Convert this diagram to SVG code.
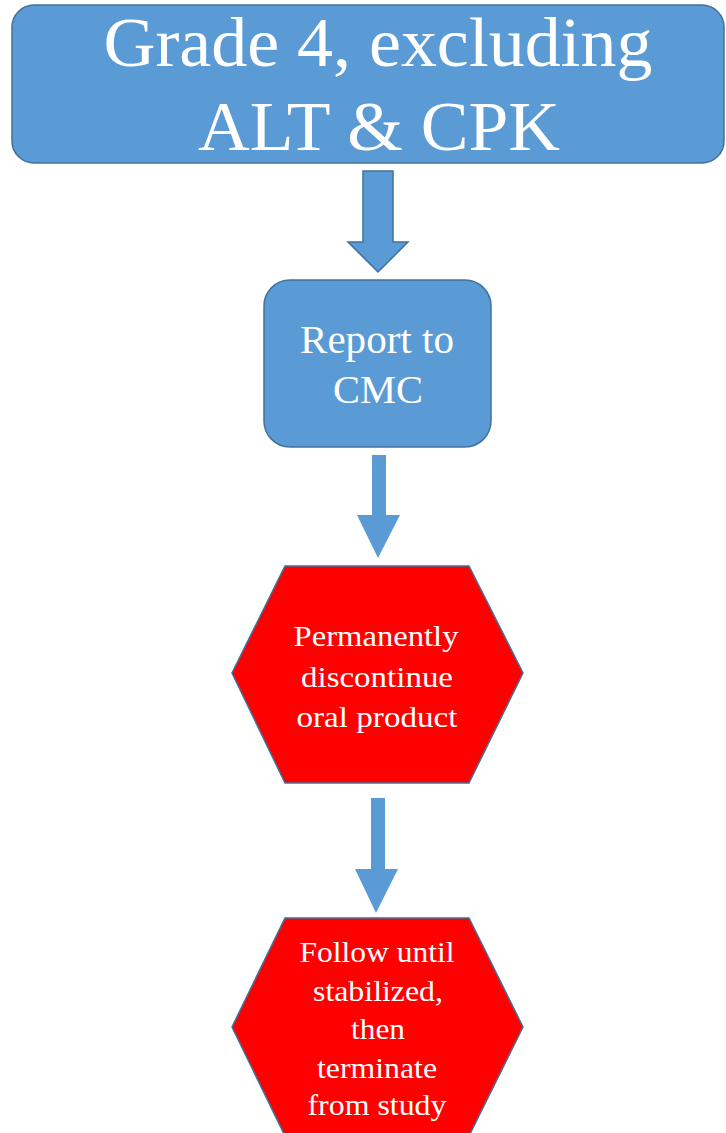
<svg xmlns="http://www.w3.org/2000/svg" width="726" height="1133" viewBox="0 0 726 1133">
<style>
.t{font-family:"Liberation Serif","Times New Roman",serif;fill:#fff;text-anchor:middle}
.box{fill:#5B9BD5;stroke:#41719C;stroke-width:1.5}
.hex{fill:#FF0000;stroke:#41719C;stroke-width:1.5}
.arr{fill:#5B9BD5}
</style>
<rect width="726" height="1133" fill="#fff"/>
<g id="connectors">
<path class="arr" d="M363,171 H393 V242 H408 L378,272 L348,242 H363 Z" stroke="#41719C" stroke-width="1.5"/>
<path class="arr" d="M372,455 H386 V515 H400 L378,558 L357,515 H372 Z"/>
<path class="arr" d="M371,798 H385 V869 H398 L376,913 L355,869 H371 Z"/>
</g>
<g id="grade4">
<rect class="box" x="12" y="5" width="712" height="158" rx="22"/>
<text class="t" font-size="70" x="378" y="66" textLength="549" lengthAdjust="spacingAndGlyphs">Grade 4, excluding</text>
<text class="t" font-size="70" x="379" y="150" textLength="362" lengthAdjust="spacingAndGlyphs">ALT &amp; CPK</text>
</g>
<g id="report">
<rect class="box" x="264" y="280" width="227" height="167" rx="26"/>
<text class="t" font-size="39" x="377" y="353" textLength="154" lengthAdjust="spacingAndGlyphs">Report to</text>
<text class="t" font-size="39" x="378" y="403" textLength="90" lengthAdjust="spacingAndGlyphs">CMC</text>
</g>
<g id="discontinue">
<polygon class="hex" points="285,566 469,566 523,673 469,783 285,783 232,673"/>
<text class="t" font-size="30" x="376" y="646" textLength="165" lengthAdjust="spacingAndGlyphs">Permanently</text>
<text class="t" font-size="30" x="377" y="687" textLength="152" lengthAdjust="spacingAndGlyphs">discontinue</text>
<text class="t" font-size="30" x="377" y="727" textLength="161" lengthAdjust="spacingAndGlyphs">oral product</text>
</g>
<g id="follow">
<polygon class="hex" points="285,918 469,918 523,1027 469,1136 285,1136 232,1027"/>
<text class="t" font-size="29" x="377" y="962" textLength="155" lengthAdjust="spacingAndGlyphs">Follow until</text>
<text class="t" font-size="29" x="378" y="1001" textLength="130" lengthAdjust="spacingAndGlyphs">stabilized,</text>
<text class="t" font-size="29" x="378" y="1039" textLength="54" lengthAdjust="spacingAndGlyphs">then</text>
<text class="t" font-size="29" x="377" y="1078" textLength="120" lengthAdjust="spacingAndGlyphs">terminate</text>
<text class="t" font-size="29" x="377" y="1115" textLength="139" lengthAdjust="spacingAndGlyphs">from study</text>
</g>
</svg>
